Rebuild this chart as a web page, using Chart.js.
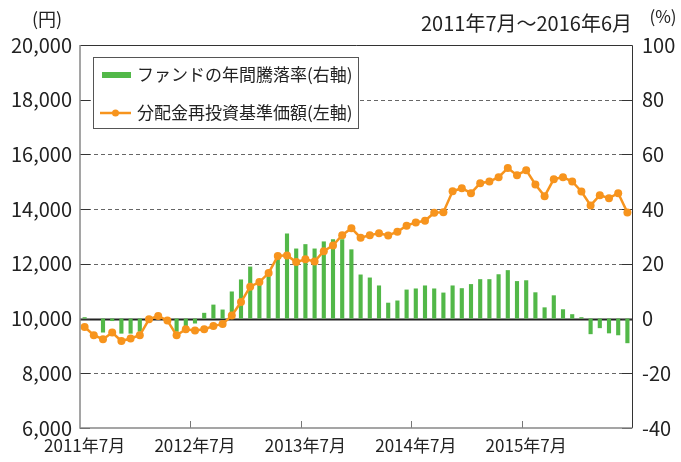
<!DOCTYPE html>
<html lang="ja">
<head>
<meta charset="UTF-8">
<title>分配金再投資基準価額とファンドの年間騰落率</title>
<script src="https://cdn.jsdelivr.net/npm/chart.js@4.4.1/dist/chart.umd.min.js"></script>
<style>
  html, body { margin: 0; padding: 0; background: #fff; }
  #wrap { width: 681px; height: 462px; }
</style>
</head>
<body>
<div id="wrap"><canvas id="chart"></canvas></div>
<script>
// 2011年7月～2016年6月 の月次ラベル
const startYear = 2011, startMonth = 7, monthCount = 60;
const months = [];
for (let i = 0; i < monthCount; i++) {
  const m = startMonth - 1 + i;
  months.push(`${startYear + Math.floor(m / 12)}年${m % 12 + 1}月`);
}

// ファンドの年間騰落率 (%) 右軸
const annualReturn = [
  0.5, 0, -5.1, -0.9, -5.5, -5.5, -4.8, 0, 0, 0,
  -4.8, -2.9, -1.8, 2.1, 5.1, 3.3, 9.9, 14.3, 19.0, 12.6,
  15.5, 22.5, 31.1, 25.6, 27.2, 25.6, 28.2, 29.0, 29.0, 25.3,
  16.1, 15.0, 12.1, 5.8, 6.6, 10.6, 11.0, 12.1, 11.0, 9.5,
  12.1, 11.1, 12.6, 14.4, 14.4, 16.2, 17.7, 13.7, 14.0, 9.6,
  4.1, 8.5, 3.4, 1.6, 0.5, -5.7, -3.5, -5.4, -6.1, -9.0
];

// 分配金再投資基準価額 (円) 左軸
const navReinvested = [
  9690, 9390, 9245, 9490, 9180, 9270, 9390, 9975, 10095, 9925,
  9390, 9610, 9560, 9610, 9725, 9805, 10110, 10605, 11165, 11335,
  11665, 12285, 12310, 12065, 12165, 12090, 12465, 12675, 13050, 13305,
  12955, 13050, 13115, 13040, 13175, 13395, 13515, 13575, 13870, 13890,
  14655, 14765, 14585, 14950, 15010, 15170, 15500, 15240, 15425, 14900,
  14475, 15095, 15170, 15010, 14645, 14135, 14510, 14400, 14585, 13880
];

const fundColor = '#52b848';
const navColor = '#f7941d';
const FONT = '"Noto Sans CJK JP", "Noto Sans", sans-serif';

// グリッド線・内側の目盛り
const gridPlugin = {
  id: 'gridPlugin',
  beforeDatasetsDraw(chart) {
    const { ctx, chartArea: a, scales } = chart;
    const y = scales.y, x = scales.x;
    ctx.save();
    y.ticks.forEach(t => {
      const py = Math.round(y.getPixelForValue(t.value)) + 0.5;
      if (t.value !== y.min && t.value !== y.max) {
        ctx.beginPath();
        if (t.value === 10000) {
          ctx.setLineDash([]);
          ctx.strokeStyle = '#222';
          ctx.lineWidth = 2;
        } else {
          ctx.setLineDash([4, 3]);
          ctx.strokeStyle = '#666';
          ctx.lineWidth = 1;
        }
        ctx.moveTo(a.left, py);
        ctx.lineTo(a.right, py);
        ctx.stroke();
      }
      ctx.setLineDash([]);
      ctx.strokeStyle = '#333';
      ctx.lineWidth = 1;
      ctx.beginPath();
      ctx.moveTo(a.left, py); ctx.lineTo(a.left + 10, py);
      ctx.moveTo(a.right - 10, py); ctx.lineTo(a.right, py);
      ctx.stroke();
    });
    // 年ごとの目盛り (下辺から内側へ)
    ctx.strokeStyle = '#777';
    ctx.lineWidth = 1;
    for (let i = 12; i < months.length; i += 12) {
      const px = Math.round((x.getPixelForValue(i) + x.getPixelForValue(i - 1)) / 2) + 0.5;
      ctx.beginPath();
      ctx.moveTo(px, a.bottom);
      ctx.lineTo(px, a.bottom - 7);
      ctx.stroke();
    }
    ctx.restore();
  }
};

// 枠と凡例
const framePlugin = {
  id: 'framePlugin',
  afterDatasetsDraw(chart) {
    const { ctx, chartArea: a } = chart;
    ctx.save();
    ctx.lineWidth = 1;
    ctx.strokeStyle = '#333';
    ctx.beginPath();
    ctx.moveTo(a.left, a.top + 0.5); ctx.lineTo(a.right + 0.5, a.top + 0.5);
    ctx.lineTo(a.right + 0.5, a.bottom);
    ctx.stroke();
    ctx.lineWidth = 1.5;
    ctx.strokeStyle = '#888';
    ctx.beginPath();
    ctx.moveTo(a.left, a.top); ctx.lineTo(a.left, a.bottom);
    ctx.lineTo(a.right + 0.5, a.bottom);
    ctx.stroke();

    // 凡例
    const x0 = a.left + 13, y0 = a.top + 12, w = 265, h = 71;
    ctx.fillStyle = '#fff';
    ctx.fillRect(x0, y0, w, h);
    ctx.strokeStyle = '#555';
    ctx.lineWidth = 1;
    ctx.strokeRect(x0 + 0.5, y0 + 0.5, w, h);
    ctx.font = `17px ${FONT}`;
    ctx.textBaseline = 'middle';
    ctx.textAlign = 'left';
    chart.data.datasets.forEach((ds, i) => {
      const cy = y0 + 18 + i * 38;
      if (ds.type === 'line') {
        ctx.strokeStyle = ds.borderColor;
        ctx.lineWidth = 2.5;
        ctx.beginPath();
        ctx.moveTo(x0 + 7, cy); ctx.lineTo(x0 + 38, cy);
        ctx.stroke();
        ctx.fillStyle = ds.borderColor;
        ctx.beginPath();
        ctx.arc(x0 + 22.5, cy, 3.5, 0, Math.PI * 2);
        ctx.fill();
      } else {
        ctx.fillStyle = ds.backgroundColor;
        ctx.fillRect(x0 + 9, cy - 3, 29, 6);
      }
      ctx.fillStyle = '#222';
      ctx.fillText(ds.label, x0 + 44, cy);
    });
    ctx.restore();
  },
  afterDraw(chart) {
    const { ctx, chartArea: a } = chart;
    ctx.save();
    ctx.fillStyle = '#222';
    ctx.textBaseline = 'middle';
    ctx.font = `18px ${FONT}`;
    ctx.textAlign = 'center';
    ctx.fillText('(円)', 47, 19);
    ctx.font = `17px ${FONT}`;
    ctx.fillText('(%)', 663, 17);
    ctx.font = `20px ${FONT}`;
    ctx.textAlign = 'right';
    ctx.fillText('2011年7月～2016年6月', a.right, 23);
    ctx.restore();
  }
};

new Chart(document.getElementById('chart'), {
  type: 'bar',
  data: {
    labels: months,
    datasets: [{
      label: 'ファンドの年間騰落率(右軸)',
      data: annualReturn,
      backgroundColor: fundColor,
      yAxisID: 'y1',
      barPercentage: 0.45,
      categoryPercentage: 1,
      order: 2
    }, {
      type: 'line',
      label: '分配金再投資基準価額(左軸)',
      data: navReinvested,
      borderColor: navColor,
      backgroundColor: navColor,
      borderWidth: 2.5,
      pointRadius: 4,
      pointBorderWidth: 0,
      pointBackgroundColor: navColor,
      tension: 0,
      yAxisID: 'y',
      order: 1
    }]
  },
  options: {
    responsive: true,
    maintainAspectRatio: false,
    animation: false,
    layout: { padding: { top: 45, left: 0, right: 0, bottom: 0 } },
    plugins: {
      legend: { display: false },
      tooltip: { enabled: false }
    },
    scales: {
      x: {
        type: 'category',
        offset: true,
        grid: { display: false, drawTicks: false },
        border: { display: false },
        ticks: {
          autoSkip: false,
          maxRotation: 0,
          minRotation: 0,
          padding: 7,
          color: '#222',
          font: { family: FONT, size: 17 },
          callback: (v, i) => i % 12 === 0 ? months[i] : ''
        },
        afterFit: s => { s.height = 34; }
      },
      y: {
        position: 'left',
        min: 6000,
        max: 20000,
        grid: { display: false, drawTicks: false },
        border: { display: false },
        ticks: {
          stepSize: 2000,
          padding: 8,
          color: '#222',
          font: { family: FONT, size: 20 },
          callback: v => v.toLocaleString('en-US')
        },
        afterFit: s => { s.width = 80; }
      },
      y1: {
        position: 'right',
        min: -40,
        max: 100,
        grid: { display: false, drawTicks: false },
        border: { display: false },
        ticks: {
          stepSize: 20,
          padding: 10,
          color: '#222',
          font: { family: FONT, size: 20 }
        },
        afterFit: s => { s.width = 49; }
      }
    }
  },
  plugins: [gridPlugin, framePlugin]
});
</script>
</body>
</html>
